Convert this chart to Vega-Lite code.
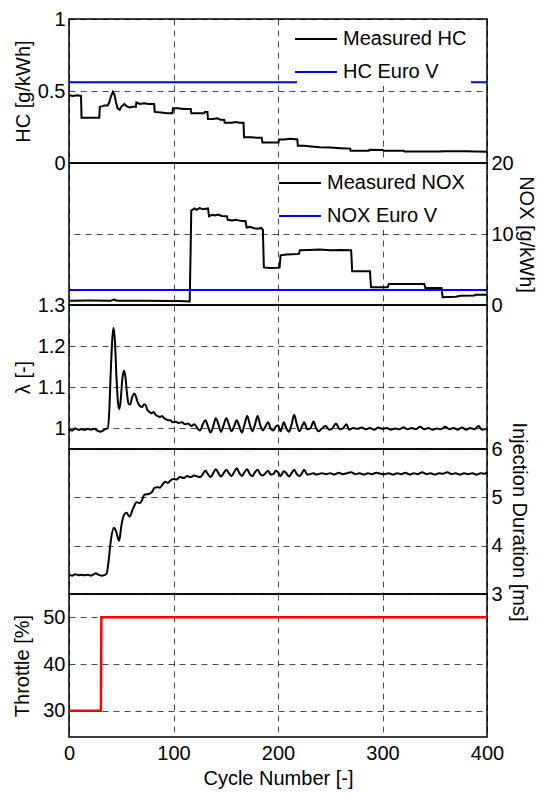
{
  "$schema": "https://vega.github.io/schema/vega-lite/v6.json",
  "padding": {"left": 12, "top": 8, "right": 0, "bottom": 3},
  "background": "white",
  "datasets": {
    "hc": [
      {"x":0,"v":0.47,"s":"Measured HC"},{"x":4,"v":0.465,"s":"Measured HC"},{"x":8,"v":0.47,"s":"Measured HC"},{"x":11.5,"v":0.465,"s":"Measured HC"},{"x":12,"v":0.315,"s":"Measured HC"},{"x":20,"v":0.315,"s":"Measured HC"},{"x":29,"v":0.315,"s":"Measured HC"},{"x":29.5,"v":0.39,"s":"Measured HC"},{"x":32,"v":0.395,"s":"Measured HC"},{"x":34,"v":0.4,"s":"Measured HC"},{"x":37,"v":0.4,"s":"Measured HC"},{"x":38.5,"v":0.42,"s":"Measured HC"},{"x":40,"v":0.46,"s":"Measured HC"},{"x":42,"v":0.495,"s":"Measured HC"},{"x":43.5,"v":0.475,"s":"Measured HC"},{"x":45,"v":0.42,"s":"Measured HC"},{"x":46.5,"v":0.38,"s":"Measured HC"},{"x":48.5,"v":0.37,"s":"Measured HC"},{"x":50,"v":0.39,"s":"Measured HC"},{"x":53,"v":0.41,"s":"Measured HC"},{"x":55,"v":0.395,"s":"Measured HC"},{"x":58,"v":0.385,"s":"Measured HC"},{"x":61,"v":0.39,"s":"Measured HC"},{"x":64,"v":0.39,"s":"Measured HC"},{"x":64.5,"v":0.42,"s":"Measured HC"},{"x":68,"v":0.41,"s":"Measured HC"},{"x":72,"v":0.415,"s":"Measured HC"},{"x":76,"v":0.41,"s":"Measured HC"},{"x":81.5,"v":0.41,"s":"Measured HC"},{"x":82,"v":0.355,"s":"Measured HC"},{"x":88,"v":0.35,"s":"Measured HC"},{"x":94,"v":0.345,"s":"Measured HC"},{"x":99,"v":0.345,"s":"Measured HC"},{"x":99.5,"v":0.38,"s":"Measured HC"},{"x":104,"v":0.38,"s":"Measured HC"},{"x":110,"v":0.375,"s":"Measured HC"},{"x":116.5,"v":0.375,"s":"Measured HC"},{"x":117,"v":0.345,"s":"Measured HC"},{"x":124,"v":0.345,"s":"Measured HC"},{"x":129.5,"v":0.345,"s":"Measured HC"},{"x":130,"v":0.355,"s":"Measured HC"},{"x":132.5,"v":0.355,"s":"Measured HC"},{"x":133,"v":0.305,"s":"Measured HC"},{"x":138,"v":0.305,"s":"Measured HC"},{"x":142,"v":0.31,"s":"Measured HC"},{"x":145,"v":0.3,"s":"Measured HC"},{"x":148.5,"v":0.3,"s":"Measured HC"},{"x":149,"v":0.28,"s":"Measured HC"},{"x":155,"v":0.28,"s":"Measured HC"},{"x":160,"v":0.285,"s":"Measured HC"},{"x":163,"v":0.28,"s":"Measured HC"},{"x":167,"v":0.28,"s":"Measured HC"},{"x":167.5,"v":0.178,"s":"Measured HC"},{"x":175,"v":0.178,"s":"Measured HC"},{"x":180,"v":0.175,"s":"Measured HC"},{"x":184.5,"v":0.175,"s":"Measured HC"},{"x":185,"v":0.143,"s":"Measured HC"},{"x":192,"v":0.143,"s":"Measured HC"},{"x":200.5,"v":0.143,"s":"Measured HC"},{"x":201,"v":0.163,"s":"Measured HC"},{"x":206,"v":0.163,"s":"Measured HC"},{"x":212,"v":0.168,"s":"Measured HC"},{"x":218.5,"v":0.163,"s":"Measured HC"},{"x":219,"v":0.12,"s":"Measured HC"},{"x":225,"v":0.12,"s":"Measured HC"},{"x":232,"v":0.115,"s":"Measured HC"},{"x":240,"v":0.11,"s":"Measured HC"},{"x":250,"v":0.107,"s":"Measured HC"},{"x":260,"v":0.103,"s":"Measured HC"},{"x":269,"v":0.1,"s":"Measured HC"},{"x":269.5,"v":0.085,"s":"Measured HC"},{"x":280,"v":0.085,"s":"Measured HC"},{"x":287,"v":0.085,"s":"Measured HC"},{"x":287.5,"v":0.092,"s":"Measured HC"},{"x":300,"v":0.09,"s":"Measured HC"},{"x":301,"v":0.085,"s":"Measured HC"},{"x":320,"v":0.085,"s":"Measured HC"},{"x":321,"v":0.08,"s":"Measured HC"},{"x":340,"v":0.08,"s":"Measured HC"},{"x":354,"v":0.08,"s":"Measured HC"},{"x":360,"v":0.082,"s":"Measured HC"},{"x":380,"v":0.082,"s":"Measured HC"},{"x":390,"v":0.08,"s":"Measured HC"},{"x":400,"v":0.078,"s":"Measured HC"},
      {"x":0,"v":0.56,"s":"HC Euro V"},{"x":400,"v":0.56,"s":"HC Euro V"}
    ],
    "nox": [
      {"x":0,"v":0.6,"s":"Measured NOX"},{"x":20,"v":0.62,"s":"Measured NOX"},{"x":40,"v":0.6,"s":"Measured NOX"},{"x":43,"v":0.75,"s":"Measured NOX"},{"x":46,"v":0.6,"s":"Measured NOX"},{"x":70,"v":0.6,"s":"Measured NOX"},{"x":99,"v":0.58,"s":"Measured NOX"},{"x":104,"v":0.55,"s":"Measured NOX"},{"x":115.5,"v":0.5,"s":"Measured NOX"},{"x":116.3,"v":7,"s":"Measured NOX"},{"x":117,"v":13.3,"s":"Measured NOX"},{"x":120,"v":13.6,"s":"Measured NOX"},{"x":122,"v":13.4,"s":"Measured NOX"},{"x":125,"v":13.65,"s":"Measured NOX"},{"x":128,"v":13.5,"s":"Measured NOX"},{"x":133,"v":13.6,"s":"Measured NOX"},{"x":134,"v":12.5,"s":"Measured NOX"},{"x":137,"v":12.7,"s":"Measured NOX"},{"x":140,"v":12.6,"s":"Measured NOX"},{"x":143,"v":12.75,"s":"Measured NOX"},{"x":146,"v":12.55,"s":"Measured NOX"},{"x":151,"v":12.5,"s":"Measured NOX"},{"x":152,"v":12.0,"s":"Measured NOX"},{"x":156,"v":11.9,"s":"Measured NOX"},{"x":160,"v":12.0,"s":"Measured NOX"},{"x":164,"v":11.85,"s":"Measured NOX"},{"x":169,"v":11.8,"s":"Measured NOX"},{"x":170,"v":10.9,"s":"Measured NOX"},{"x":173,"v":11.0,"s":"Measured NOX"},{"x":177,"v":10.8,"s":"Measured NOX"},{"x":181,"v":10.75,"s":"Measured NOX"},{"x":184,"v":10.85,"s":"Measured NOX"},{"x":185.5,"v":10.6,"s":"Measured NOX"},{"x":186.5,"v":5.3,"s":"Measured NOX"},{"x":192,"v":5.2,"s":"Measured NOX"},{"x":200,"v":5.25,"s":"Measured NOX"},{"x":201.5,"v":5.3,"s":"Measured NOX"},{"x":202.5,"v":7.0,"s":"Measured NOX"},{"x":208,"v":7.1,"s":"Measured NOX"},{"x":214,"v":7.15,"s":"Measured NOX"},{"x":220,"v":7.2,"s":"Measured NOX"},{"x":221,"v":7.7,"s":"Measured NOX"},{"x":230,"v":7.75,"s":"Measured NOX"},{"x":240,"v":7.8,"s":"Measured NOX"},{"x":250,"v":7.7,"s":"Measured NOX"},{"x":260,"v":7.75,"s":"Measured NOX"},{"x":270,"v":7.7,"s":"Measured NOX"},{"x":271,"v":4.75,"s":"Measured NOX"},{"x":288,"v":4.75,"s":"Measured NOX"},{"x":289,"v":2.5,"s":"Measured NOX"},{"x":305,"v":2.5,"s":"Measured NOX"},{"x":306,"v":2.95,"s":"Measured NOX"},{"x":340,"v":2.95,"s":"Measured NOX"},{"x":341,"v":2.4,"s":"Measured NOX"},{"x":356.5,"v":2.4,"s":"Measured NOX"},{"x":357.5,"v":1.1,"s":"Measured NOX"},{"x":370,"v":1.15,"s":"Measured NOX"},{"x":375,"v":1.3,"s":"Measured NOX"},{"x":388,"v":1.35,"s":"Measured NOX"},{"x":389,"v":1.45,"s":"Measured NOX"},{"x":400,"v":1.45,"s":"Measured NOX"},
      {"x":0,"v":2.1,"s":"NOX Euro V"},{"x":400,"v":2.1,"s":"NOX Euro V"}
    ],
    "lambda": [
      {"x":0,"v":0.997},{"x":3,"v":0.995},{"x":6,"v":1.0},{"x":9,"v":0.997},{"x":12,"v":0.998},{"x":15,"v":0.996},{"x":18,"v":0.999},{"x":21,"v":0.997},{"x":24,"v":0.999},{"x":27,"v":0.995},{"x":30,"v":0.992},{"x":32,"v":0.994},{"x":35,"v":0.999},{"x":37,"v":1.0},{"x":38.5,"v":1.04},{"x":40,"v":1.14},{"x":41.5,"v":1.22},{"x":42.7,"v":1.245},{"x":44,"v":1.21},{"x":45.5,"v":1.12},{"x":47,"v":1.06},{"x":48.2,"v":1.047},{"x":49.5,"v":1.07},{"x":51,"v":1.12},{"x":52.6,"v":1.14},{"x":54,"v":1.125},{"x":55.5,"v":1.085},{"x":57,"v":1.06},{"x":58.5,"v":1.058},{"x":60.3,"v":1.075},{"x":62.5,"v":1.085},{"x":64,"v":1.078},{"x":65.5,"v":1.065},{"x":67.6,"v":1.055},{"x":70,"v":1.052},{"x":71.5,"v":1.058},{"x":73,"v":1.058},{"x":75,"v":1.045},{"x":77,"v":1.04},{"x":79,"v":1.037},{"x":81,"v":1.04},{"x":83,"v":1.033},{"x":85,"v":1.03},{"x":87,"v":1.028},{"x":89,"v":1.03},{"x":91,"v":1.025},{"x":93,"v":1.022},{"x":95,"v":1.02},{"x":97,"v":1.02},{"x":99,"v":1.015},{"x":102,"v":1.016},{"x":105,"v":1.013},{"x":108,"v":1.015},{"x":111,"v":1.01},{"x":114,"v":1.012},{"x":117,"v":1.006},{"x":120,"v":1.01},{"x":123,"v":1.0},{"x":125.5,"v":0.995},{"x":128,"v":1.01},{"x":130.5,"v":1.02},{"x":133,"v":1.005},{"x":135.5,"v":0.99},{"x":138,"v":1.005},{"x":140.5,"v":1.025},{"x":143,"v":1.01},{"x":145.5,"v":0.992},{"x":148,"v":1.008},{"x":150.5,"v":1.025},{"x":153,"v":1.01},{"x":155.5,"v":0.993},{"x":158,"v":1.005},{"x":160.5,"v":1.02},{"x":163,"v":1.005},{"x":165.5,"v":0.99},{"x":168,"v":1.01},{"x":170.5,"v":1.03},{"x":173,"v":1.01},{"x":175.5,"v":0.993},{"x":178,"v":1.01},{"x":180.5,"v":1.03},{"x":183,"v":1.008},{"x":185.5,"v":0.995},{"x":188,"v":1.005},{"x":190.5,"v":1.015},{"x":193,"v":1.0},{"x":195.5,"v":0.995},{"x":198,"v":1.005},{"x":200,"v":1.008},{"x":202.5,"v":0.993},{"x":205.5,"v":1.015},{"x":208,"v":1.0},{"x":210.5,"v":0.992},{"x":213,"v":1.01},{"x":215.5,"v":1.033},{"x":218,"v":1.01},{"x":220.5,"v":0.993},{"x":223,"v":1.005},{"x":225,"v":1.015},{"x":228,"v":0.998},{"x":231,"v":1.0},{"x":234,"v":1.017},{"x":236.5,"v":1.0},{"x":239,"v":0.993},{"x":242,"v":1.0},{"x":245.5,"v":1.006},{"x":249,"v":0.997},{"x":252,"v":1.0},{"x":255.5,"v":1.012},{"x":259,"v":0.998},{"x":262,"v":1.0},{"x":265.5,"v":1.01},{"x":268,"v":0.997},{"x":272,"v":1.001},{"x":276,"v":0.999},{"x":280,"v":1.002},{"x":284,"v":0.998},{"x":288,"v":1.001},{"x":292,"v":0.997},{"x":296,"v":1.002},{"x":300,"v":0.999},{"x":304,"v":1.001},{"x":308,"v":0.997},{"x":312,"v":1.0},{"x":316,"v":0.998},{"x":320,"v":1.003},{"x":324,"v":0.998},{"x":328,"v":1.001},{"x":332,"v":0.998},{"x":336,"v":1.004},{"x":340,"v":0.998},{"x":344,"v":1.001},{"x":348,"v":0.997},{"x":352,"v":1.0},{"x":356,"v":0.998},{"x":360,"v":1.004},{"x":364,"v":0.998},{"x":368,"v":1.001},{"x":372,"v":0.997},{"x":376,"v":1.002},{"x":380,"v":0.997},{"x":384,"v":1.001},{"x":388,"v":0.998},{"x":392,"v":1.006},{"x":395,"v":0.997},{"x":398,"v":0.998},{"x":400,"v":0.999}
    ],
    "inj": [
      {"x":0,"v":3.4},{"x":3,"v":3.38},{"x":6,"v":3.41},{"x":9,"v":3.39},{"x":12,"v":3.4},{"x":15,"v":3.39},{"x":18,"v":3.4},{"x":21,"v":3.38},{"x":24,"v":3.41},{"x":25.6,"v":3.43},{"x":28,"v":3.4},{"x":31,"v":3.38},{"x":34,"v":3.39},{"x":36,"v":3.42},{"x":38,"v":3.7},{"x":40,"v":4.1},{"x":43,"v":4.37},{"x":45,"v":4.3},{"x":48,"v":4.1},{"x":50,"v":4.4},{"x":53,"v":4.65},{"x":55,"v":4.68},{"x":58,"v":4.6},{"x":61,"v":4.75},{"x":64.8,"v":4.9},{"x":68,"v":4.88},{"x":70,"v":4.95},{"x":72,"v":5.05},{"x":76,"v":5.07},{"x":79,"v":5.1},{"x":82,"v":5.2},{"x":85,"v":5.21},{"x":87,"v":5.2},{"x":90,"v":5.28},{"x":92,"v":5.32},{"x":95,"v":5.3},{"x":97,"v":5.35},{"x":100,"v":5.38},{"x":103,"v":5.37},{"x":106,"v":5.42},{"x":110,"v":5.4},{"x":113,"v":5.44},{"x":116,"v":5.42},{"x":120,"v":5.45},{"x":123,"v":5.43},{"x":125.5,"v":5.42},{"x":128,"v":5.48},{"x":130.5,"v":5.55},{"x":133,"v":5.48},{"x":135.5,"v":5.42},{"x":138,"v":5.5},{"x":140.5,"v":5.58},{"x":143,"v":5.5},{"x":145.5,"v":5.43},{"x":148,"v":5.5},{"x":150.5,"v":5.57},{"x":153,"v":5.5},{"x":155.5,"v":5.44},{"x":158,"v":5.52},{"x":160.5,"v":5.6},{"x":163,"v":5.5},{"x":165.5,"v":5.44},{"x":168,"v":5.52},{"x":170.5,"v":5.58},{"x":173,"v":5.48},{"x":175.5,"v":5.44},{"x":178,"v":5.52},{"x":180.5,"v":5.57},{"x":183,"v":5.48},{"x":185.5,"v":5.45},{"x":188,"v":5.5},{"x":190.5,"v":5.55},{"x":193,"v":5.47},{"x":195.5,"v":5.48},{"x":198,"v":5.55},{"x":200,"v":5.52},{"x":202.5,"v":5.44},{"x":205.5,"v":5.54},{"x":208,"v":5.5},{"x":210.5,"v":5.43},{"x":213,"v":5.5},{"x":215.5,"v":5.57},{"x":218,"v":5.48},{"x":220.5,"v":5.44},{"x":223,"v":5.5},{"x":225,"v":5.57},{"x":228,"v":5.47},{"x":231,"v":5.48},{"x":234,"v":5.5},{"x":236.5,"v":5.47},{"x":239,"v":5.48},{"x":242,"v":5.5},{"x":246,"v":5.48},{"x":250,"v":5.5},{"x":254,"v":5.47},{"x":258,"v":5.51},{"x":262,"v":5.48},{"x":266,"v":5.5},{"x":270,"v":5.52},{"x":274,"v":5.48},{"x":278,"v":5.5},{"x":282,"v":5.47},{"x":286,"v":5.5},{"x":290,"v":5.48},{"x":294,"v":5.51},{"x":298,"v":5.49},{"x":302,"v":5.48},{"x":306,"v":5.5},{"x":310,"v":5.47},{"x":314,"v":5.5},{"x":318,"v":5.48},{"x":322,"v":5.51},{"x":326,"v":5.47},{"x":330,"v":5.5},{"x":334,"v":5.48},{"x":338,"v":5.52},{"x":342,"v":5.48},{"x":346,"v":5.5},{"x":350,"v":5.47},{"x":354,"v":5.5},{"x":358,"v":5.49},{"x":362,"v":5.52},{"x":366,"v":5.48},{"x":370,"v":5.5},{"x":374,"v":5.47},{"x":378,"v":5.5},{"x":382,"v":5.48},{"x":386,"v":5.5},{"x":390,"v":5.47},{"x":394,"v":5.5},{"x":398,"v":5.49},{"x":400,"v":5.52}
    ],
    "thr": [
      {"x":0,"v":30},{"x":30.5,"v":30},{"x":31,"v":50},{"x":400,"v":50}
    ]
  },
  "config": {
    "font": "Liberation Sans",
    "view": {"stroke": "black", "strokeWidth": 1.5},
    "axis": {
      "labelFontSize": 20, "titleFontSize": 20, "titleFontWeight": "normal",
      "labelColor": "black", "titleColor": "black", "labelFont": "Liberation Sans", "titleFont": "Liberation Sans",
      "grid": true, "gridColor": "black", "gridDash": [6, 5], "gridOpacity": 0.7, "gridWidth": 1,
      "domain": false, "ticks": false, "labelPadding": 4, "labelFlush": false, "labelOverlap": false
    },
    "legend": {
      "orient": "none", "legendY": 1, "padding": 4, "fillColor": "white",
      "symbolType": "M-1.5,0H1.5", "symbolSize": 784, "symbolStrokeWidth": 2,
      "labelFontSize": 20, "labelFont": "Liberation Sans", "labelColor": "black",
      "labelOffset": 12, "rowPadding": 8, "labelLimit": 400
    }
  },
  "resolve": {"scale": {"color": "independent"}, "legend": {"color": "independent"}},
  "spacing": 0,
  "bounds": "flush",
  "vconcat": [
    {
      "width": 418, "height": 144,
      "data": {"name": "hc"},
      "mark": {"type": "line", "strokeWidth": 2},
      "encoding": {
        "x": {"field": "x", "type": "quantitative", "scale": {"domain": [0, 400], "nice": false}, "axis": {"values": [0, 100, 200, 300, 400], "labels": false, "title": null}},
        "y": {"field": "v", "type": "quantitative", "scale": {"domain": [0, 1], "nice": false}, "axis": {"values": [0, 0.5, 1], "format": "~g", "title": "HC [g/kWh]", "titlePadding": 4}},
        "color": {"field": "s", "type": "nominal", "scale": {"domain": ["Measured HC", "HC Euro V"], "range": ["black", "blue"]}, "legend": {"title": null, "legendX": 228, "legendY": 1}}
      }
    },
    {
      "width": 418, "height": 142,
      "data": {"name": "nox"},
      "mark": {"type": "line", "strokeWidth": 2},
      "encoding": {
        "x": {"field": "x", "type": "quantitative", "scale": {"domain": [0, 400], "nice": false}, "axis": {"values": [0, 100, 200, 300, 400], "labels": false, "title": null}},
        "y": {"field": "v", "type": "quantitative", "scale": {"domain": [0, 20], "nice": false}, "axis": {"orient": "right", "values": [0, 10, 20], "title": "NOX [g/kWh]", "titlePadding": 2}},
        "color": {"field": "s", "type": "nominal", "scale": {"domain": ["Measured NOX", "NOX Euro V"], "range": ["black", "blue"]}, "legend": {"title": null, "legendX": 212, "legendY": 1}}
      }
    },
    {
      "width": 418, "height": 144,
      "data": {"name": "lambda"},
      "mark": {"type": "line", "strokeWidth": 2, "color": "black", "interpolate": "monotone"},
      "encoding": {
        "x": {"field": "x", "type": "quantitative", "scale": {"domain": [0, 400], "nice": false}, "axis": {"values": [0, 100, 200, 300, 400], "labels": false, "title": null}},
        "y": {"field": "v", "type": "quantitative", "scale": {"domain": [0.95, 1.3], "nice": false, "zero": false}, "axis": {"values": [1, 1.1, 1.2, 1.3], "format": "~g", "title": "λ [-]", "titlePadding": 4}}
      }
    },
    {
      "width": 418, "height": 145,
      "data": {"name": "inj"},
      "mark": {"type": "line", "strokeWidth": 2, "color": "black", "interpolate": "monotone"},
      "encoding": {
        "x": {"field": "x", "type": "quantitative", "scale": {"domain": [0, 400], "nice": false}, "axis": {"values": [0, 100, 200, 300, 400], "labels": false, "title": null}},
        "y": {"field": "v", "type": "quantitative", "scale": {"domain": [3, 6], "nice": false, "zero": false}, "axis": {"orient": "right", "values": [3, 4, 5, 6], "title": "Injection Duration [ms]", "titlePadding": 6}}
      }
    },
    {
      "width": 418, "height": 143,
      "data": {"name": "thr"},
      "mark": {"type": "line", "strokeWidth": 2.5, "color": "#ff0000"},
      "encoding": {
        "x": {"field": "x", "type": "quantitative", "scale": {"domain": [0, 400], "nice": false}, "axis": {"values": [0, 100, 200, 300, 400], "title": "Cycle Number [-]", "labelPadding": 6, "titlePadding": 5}},
        "y": {"field": "v", "type": "quantitative", "scale": {"domain": [24.4, 55], "nice": false, "zero": false}, "axis": {"values": [30, 40, 50], "title": "Throttle [%]", "titlePadding": 10}}
      }
    }
  ]
}
